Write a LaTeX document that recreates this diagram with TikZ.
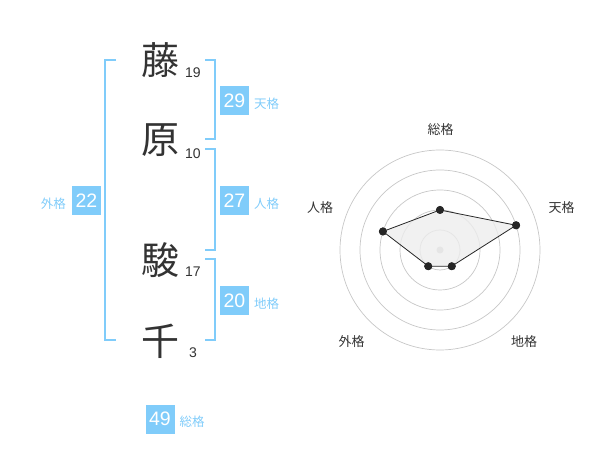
\documentclass[tikz,border=0pt]{standalone}
\usepackage{fontspec}
\setmainfont{Noto Sans CJK JP}
\newfontfamily\digitfont{Liberation Sans}
\definecolor{sky}{HTML}{80CCFA}
\definecolor{ink}{HTML}{333333}
\begin{document}
\begin{tikzpicture}[x=1pt,y=-1pt,
  kanji/.style={text=ink, inner sep=0pt, font=\fontsize{38}{38}\selectfont},
  strokes/.style={text=ink, inner sep=0pt, font=\digitfont\fontsize{14}{14}\selectfont},
  valbox/.style={fill=sky, text=white, minimum width=29pt, minimum height=29pt, inner sep=0pt, font=\digitfont\fontsize{19.5}{19.5}\selectfont},
  lbl/.style={text=sky, inner sep=0pt, font=\fontsize{12.5}{12.5}\selectfont},
  bracket/.style={draw=sky, line width=2pt},
  ring/.style={draw=black!22, line width=0.7pt},
  rlbl/.style={text=ink, inner sep=0pt, font=\fontsize{13}{13}\selectfont},
  rdot/.style={circle, fill=black!85, inner sep=0pt, minimum size=8pt},
]
\useasboundingbox (0,0) rectangle (600,470);
% big characters
\node[kanji] (k1) at (160,60) {藤};
\node[kanji] (k2) at (160,140) {原};
\node[kanji] (k3) at (160,260) {駿};
\node[kanji] (k4) at (160,341) {千};
\node[strokes] (s1) at (193,73) {19};
\node[strokes] (s2) at (193,153.5) {10};
\node[strokes] (s3) at (193,272) {17};
\node[strokes] (s4) at (193,353) {3};
% brackets
\draw[bracket] (205,60) -- (214.5,60) -- (214.5,139.5) -- (205,139.5);
\draw[bracket] (205,149.5) -- (214.5,149.5) -- (214.5,250) -- (205,250);
\draw[bracket] (205,259.5) -- (214.5,259.5) -- (214.5,340) -- (205,340);
\draw[bracket] (116,60) -- (104.5,60) -- (104.5,340) -- (116,340);
% values
\node[valbox] (ten) at (234.5,100.5) {29};
\node[lbl, anchor=west] (tenl) at (254,104) {天格};
\node[valbox] (jin) at (234.5,200.5) {27};
\node[lbl, anchor=west] (jinl) at (254,204) {人格};
\node[valbox] (chi) at (234.5,300.5) {20};
\node[lbl, anchor=west] (chil) at (254,304) {地格};
\node[valbox] (gai) at (86.5,200.5) {22};
\node[lbl, anchor=east] (gail) at (66,204) {外格};
\node[valbox] (sou) at (160,419) {49};
\node[lbl, anchor=west] (soul) at (179.5,422) {総格};
% radar
\begin{scope}[shift={(440,250)}]
  \foreach \r in {20,40,60,80,100} \draw[ring] (0,0) circle[radius=\r];
  \node[circle, fill=black!22, inner sep=0pt, minimum size=7pt] (c0) at (0,0) {};
  \node[rdot] (p1) at (-90:40) {};
  \node[rdot] (p2) at (-18:80) {};
  \node[rdot] (p3) at (54:20) {};
  \node[rdot] (p4) at (126:20) {};
  \node[rdot] (p5) at (198:60) {};
  \fill[black!7, fill opacity=0.8] (p1.center) -- (p2.center) -- (p3.center) -- (p4.center) -- (p5.center) -- cycle;
  \draw[black!85, line width=0.8pt] (p1.center) -- (p2.center) -- (p3.center) -- (p4.center) -- (p5.center) -- cycle;
  \node[rdot] at (p1) {};
  \node[rdot] at (p2) {};
  \node[rdot] at (p3) {};
  \node[rdot] at (p4) {};
  \node[rdot] at (p5) {};
  \node[rlbl] (l1) at (0.7,-120) {総格};
  \node[rlbl] (l2) at (121.7,-42) {天格};
  \node[rlbl] (l3) at (84,92) {地格};
  \node[rlbl] (l4) at (-88.3,92) {外格};
  \node[rlbl] (l5) at (-120,-42) {人格};
\end{scope}
\end{tikzpicture}
\end{document}
